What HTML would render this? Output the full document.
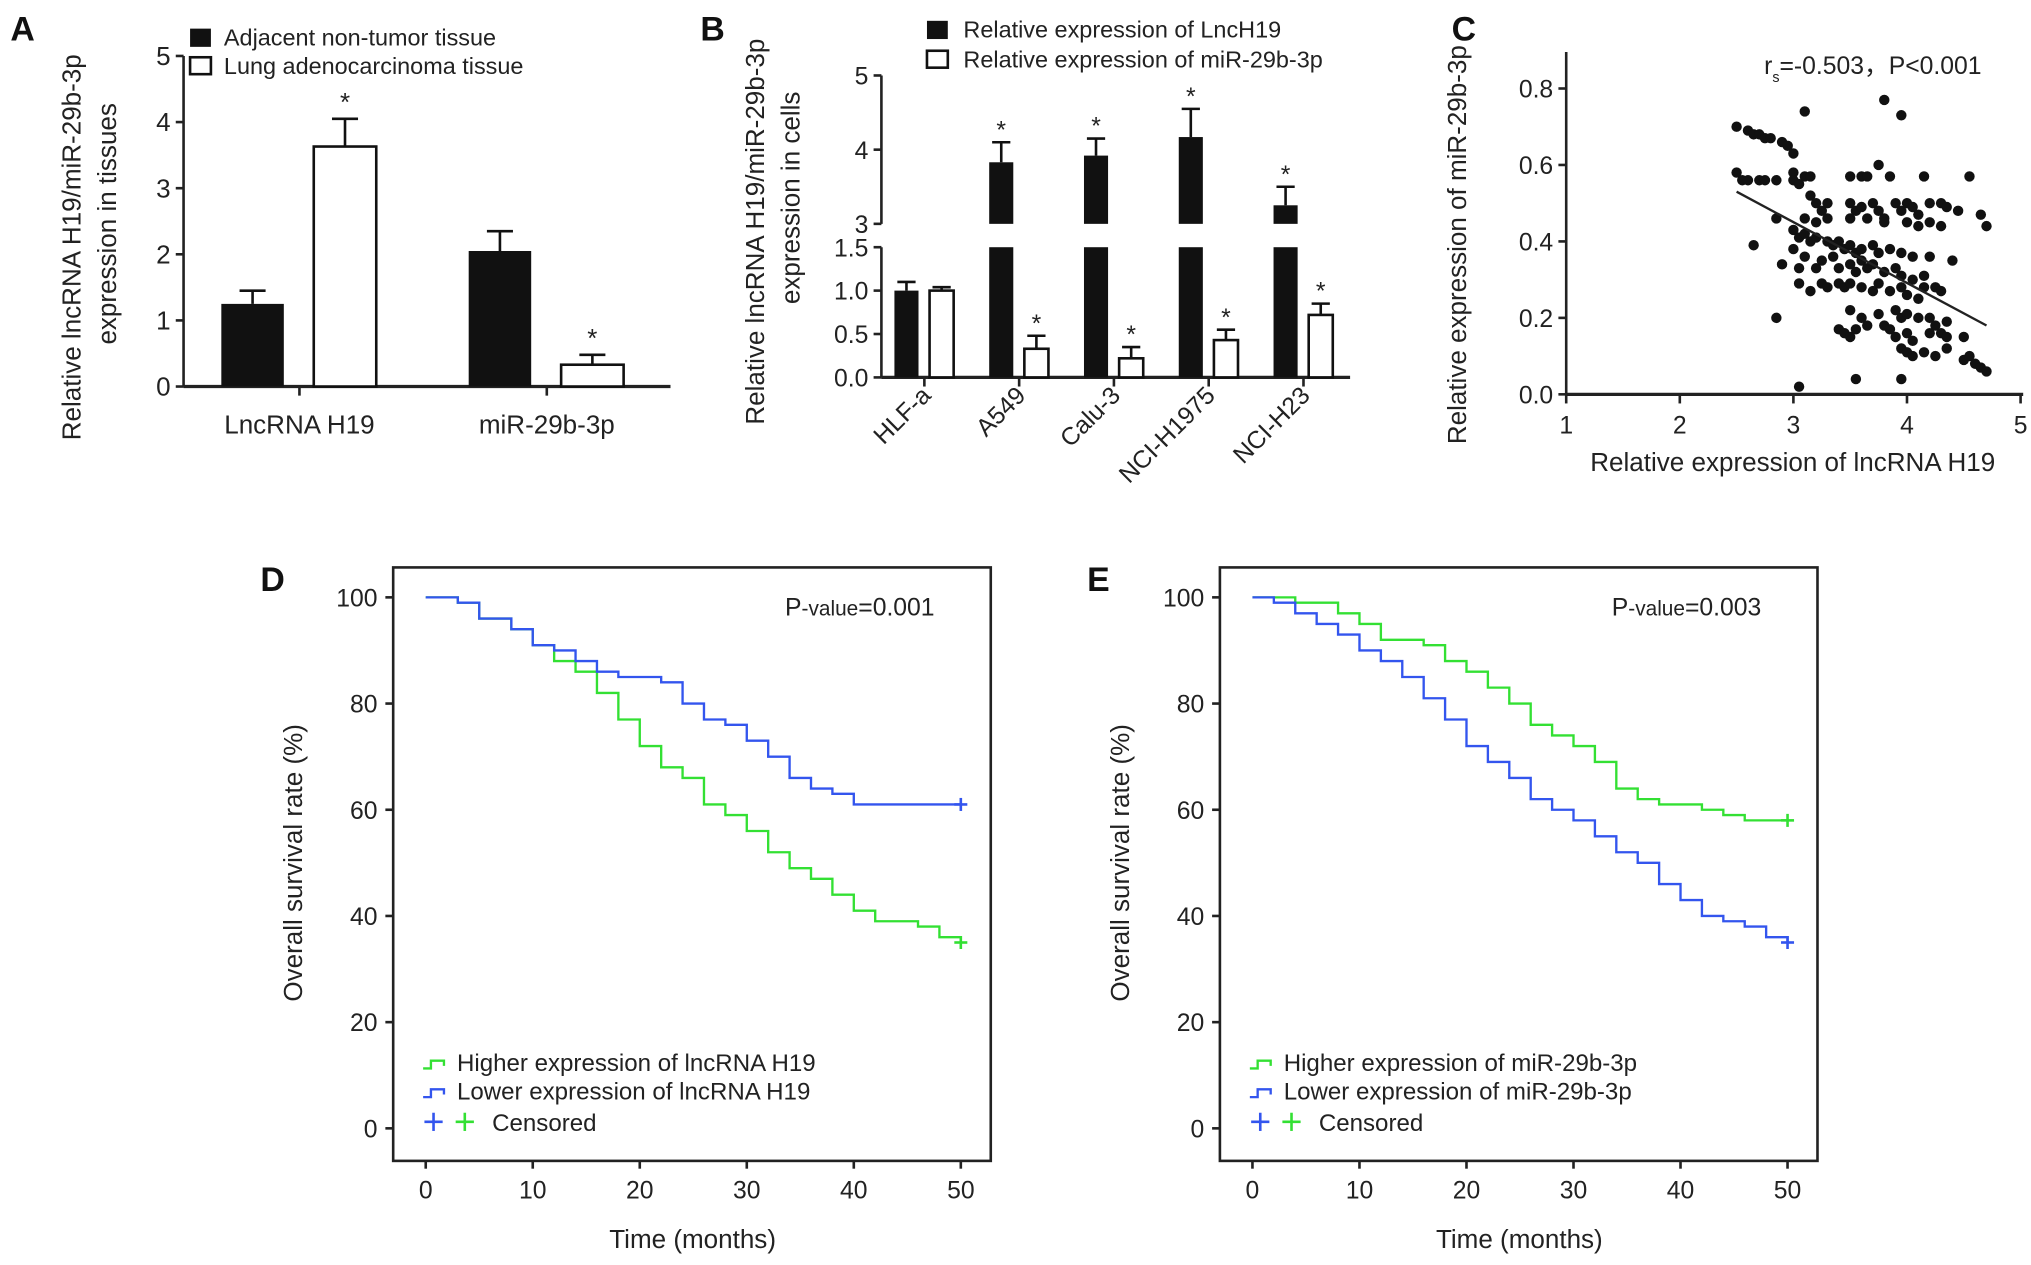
<!DOCTYPE html>
<html><head><meta charset="utf-8">
<style>
html,body{margin:0;padding:0;background:#fff;}
svg{display:block;font-family:"Liberation Sans",Arial,sans-serif;}
</style></head>
<body>
<svg id="fig" width="2031" height="1265" viewBox="0 0 1560 972" preserveAspectRatio="none" xmlns="http://www.w3.org/2000/svg">
<rect x="0" y="0" width="1560" height="972" fill="#fff"/>
</svg>
<script>
// ---------- DATA ----------
const aCategories = ["LncRNA H19", "miR-29b-3p"];
const aAdjacent = [1.25, 2.05];
const aAdjacentErr = [0.2, 0.3];
const aTumor = [3.63, 0.33];
const aTumorErr = [0.42, 0.15];
const aTicks = [0, 1, 2, 3, 4, 5];

const bCategories = ["HLF-a", "A549", "Calu-3", "NCI-H1975", "NCI-H23"];
const bLnc = [1.0, 3.83, 3.92, 4.17, 3.25];
const bLncErr = [0.1, 0.27, 0.23, 0.38, 0.25];
const bMir = [1.0, 0.33, 0.22, 0.43, 0.72];
const bMirErr = [0.04, 0.15, 0.13, 0.12, 0.13];
const bLowTicks = ["0.0", "0.5", "1.0", "1.5"];
const bHighTicks = ["3", "4", "5"];

const cX = [2.5,2.6,2.65,2.7,2.75,2.8,2.9,2.95,3.0,3.1,3.8,3.95,
2.5,2.55,2.6,2.7,2.75,2.85,3.0,3.0,3.1,3.15,3.5,3.6,3.65,3.75,3.85,4.15,4.55,
3.05,3.15,3.2,3.3,3.25,3.5,3.55,3.6,3.7,3.75,3.8,3.9,3.95,4.0,4.05,4.1,4.2,4.3,4.35,4.45,4.65,4.7,
2.85,3.1,3.2,3.3,3.5,3.65,3.8,4.0,4.1,4.2,4.3,
2.65,3.0,3.05,3.1,3.15,3.2,3.3,3.35,3.4,3.45,3.5,3.55,3.6,3.7,3.75,3.85,3.95,4.05,4.2,4.4,
2.9,3.0,3.05,3.1,3.2,3.25,3.35,3.4,3.5,3.55,3.6,3.65,3.7,3.8,3.9,3.95,4.05,4.15,
3.05,3.15,3.25,3.3,3.4,3.45,3.5,3.6,3.7,3.75,3.85,3.95,4.0,4.1,4.15,4.25,4.3,
3.5,3.6,3.75,3.9,3.95,4.0,4.1,4.2,4.25,4.35,
2.85,3.4,3.45,3.55,3.5,3.65,3.8,3.85,3.9,4.0,4.05,4.2,4.3,4.35,4.5,
3.95,4.0,4.05,4.15,4.25,4.35,4.5,4.55,4.6,4.65,4.7,
3.05,3.55,3.95];
const cY = [0.70,0.69,0.68,0.68,0.67,0.67,0.66,0.65,0.63,0.74,0.77,0.73,
0.58,0.56,0.56,0.56,0.56,0.56,0.58,0.56,0.57,0.57,0.57,0.57,0.57,0.60,0.57,0.57,0.57,
0.55,0.52,0.50,0.50,0.48,0.50,0.48,0.49,0.50,0.48,0.46,0.50,0.48,0.50,0.49,0.47,0.50,0.50,0.49,0.48,0.47,0.44,
0.46,0.46,0.45,0.46,0.46,0.46,0.45,0.45,0.44,0.45,0.44,
0.39,0.43,0.41,0.42,0.40,0.41,0.40,0.39,0.40,0.38,0.39,0.37,0.38,0.39,0.37,0.38,0.37,0.36,0.36,0.35,
0.34,0.38,0.33,0.36,0.33,0.35,0.36,0.33,0.34,0.32,0.35,0.33,0.34,0.32,0.33,0.31,0.30,0.31,
0.29,0.27,0.29,0.28,0.29,0.28,0.29,0.28,0.27,0.29,0.27,0.28,0.26,0.25,0.28,0.28,0.27,
0.22,0.20,0.21,0.22,0.20,0.21,0.20,0.20,0.18,0.19,
0.20,0.17,0.16,0.17,0.15,0.18,0.18,0.17,0.15,0.16,0.14,0.16,0.16,0.15,0.15,
0.12,0.11,0.10,0.11,0.10,0.12,0.09,0.10,0.08,0.07,0.06,
0.02,0.04,0.04];
const cFit = [[2.5, 0.53], [4.7, 0.18]];
const cXTicks = [1, 2, 3, 4, 5];
const cYTicks = ["0.0", "0.2", "0.4", "0.6", "0.8"];

const kmTicksX = [0, 10, 20, 30, 40, 50];
const kmTicksY = [0, 20, 40, 60, 80, 100];
const dGreenT = [0,3,5,8,10,12,14,16,18,20,22,24,26,28,30,32,34,36,38,40,42,44,46,48,50];
const dGreenS = [100,99,96,94,91,88,86,82,77,72,68,66,61,59,56,52,49,47,44,41,39,39,38,36,35];
const dBlueT = [0,3,5,8,10,12,14,16,18,20,22,24,26,28,30,32,34,36,38,40,50];
const dBlueS = [100,99,96,94,91,90,88,86,85,85,84,80,77,76,73,70,66,64,63,61,61];
const eGreenT = [0,4,8,10,12,16,18,20,22,24,26,28,30,32,34,36,38,42,44,46,50];
const eGreenS = [100,99,97,95,92,91,88,86,83,80,76,74,72,69,64,62,61,60,59,58,58];
const eBlueT = [0,2,4,6,8,10,12,14,16,18,20,22,24,26,28,30,32,34,36,38,40,42,44,46,48,50];
const eBlueS = [100,99,97,95,93,90,88,85,81,77,72,69,66,62,60,58,55,52,50,46,43,40,39,38,36,35];

// ---------- HELPERS ----------
const svg = document.getElementById('fig');
const NS = 'http://www.w3.org/2000/svg';
function mk(tag, attrs, parent) {
  const e = document.createElementNS(NS, tag);
  for (const k in attrs) e.setAttribute(k, attrs[k]);
  (parent || svg).appendChild(e);
  return e;
}
function txt(x, y, s, size, opts, parent) {
  const e = mk('text', Object.assign({x: x, y: y, 'font-size': size, fill: '#222'}, opts || {}), parent);
  e.textContent = s;
  return e;
}
function line(x1, y1, x2, y2, w, col, parent) {
  return mk('line', {x1: x1, y1: y1, x2: x2, y2: y2, stroke: col || '#222', 'stroke-width': w || 2}, parent);
}

// ---------- PANEL A ----------
(function () {
  const g = mk('g', {});
  
  
  const x0 = 141, yA = v => 297 - v * 50.8;
  const lbl = txt(8, 31, 'A', 26, {'font-weight': 'bold', fill: '#111'}, g);
  
  
  line(x0, yA(0), x0, yA(5), 2, '#222', g);
  line(x0, yA(0), 515, yA(0), 2.5, '#222', g);
  aTicks.forEach(t => {
    line(x0 - 6, yA(t), x0, yA(t), 2, '#222', g);
    const e = txt(x0 - 10, yA(t) + 7, String(t), 20, {'text-anchor': 'end'}, g);
    
    
  });
  const centers = [230, 420];
  aCategories.forEach((c, i) => {
    const cx = centers[i];
    line(cx, yA(0), cx, yA(0) + 7, 2, '#222', g);
    const e = txt(cx, 333, c, 20, {'text-anchor': 'middle'}, g);
    
    
    // black bar
    const bx = cx - 60, wx = cx + 11, bw = 48;
    line(bx + bw / 2, yA(aAdjacent[i]), bx + bw / 2, yA(aAdjacent[i] + aAdjacentErr[i]), 2, '#111', g);
    line(bx + bw / 2 - 10, yA(aAdjacent[i] + aAdjacentErr[i]), bx + bw / 2 + 10, yA(aAdjacent[i] + aAdjacentErr[i]), 2, '#111', g);
    const r1 = mk('rect', {x: bx, y: yA(aAdjacent[i]), width: bw, height: yA(0) - yA(aAdjacent[i]), fill: '#111'}, g);
    
    
    line(wx + bw / 2, yA(aTumor[i]), wx + bw / 2, yA(aTumor[i] + aTumorErr[i]), 2, '#111', g);
    line(wx + bw / 2 - 10, yA(aTumor[i] + aTumorErr[i]), wx + bw / 2 + 10, yA(aTumor[i] + aTumorErr[i]), 2, '#111', g);
    const r2 = mk('rect', {x: wx, y: yA(aTumor[i]), width: bw, height: yA(0) - yA(aTumor[i]), fill: '#fff', stroke: '#111', 'stroke-width': 2}, g);
    
    
    const s = txt(wx + bw / 2, yA(aTumor[i] + aTumorErr[i]) - 6, '*', 20, {'text-anchor': 'middle'}, g);
    
    
  });
  mk('rect', {x: 146, y: 22, width: 16, height: 14, fill: '#111'}, g);
  txt(172, 35, 'Adjacent non-tumor tissue', 18, {}, g);
  mk('rect', {x: 146, y: 44, width: 16, height: 13, fill: '#fff', stroke: '#111', 'stroke-width': 2}, g);
  txt(172, 57, 'Lung adenocarcinoma tissue', 18, {}, g);
  const yl = txt(0, 0, 'Relative lncRNA H19/miR-29b-3p', 20, {transform: 'translate(62,190) rotate(-90)', 'text-anchor': 'middle'}, g);
  
  
  txt(0, 0, 'expression in tissues', 20, {transform: 'translate(89,172) rotate(-90)', 'text-anchor': 'middle'}, g);
})();

// ---------- PANEL B ----------
(function () {
  const g = mk('g', {});
  
  
  const x0 = 677;
  const yLow = v => 290 - v * 66.7;
  const yHigh = v => 172 - (v - 3) * 57;
  txt(538, 31, 'B', 26, {'font-weight': 'bold', fill: '#111'}, g);
  line(x0, yLow(0), x0, yLow(1.5), 2, '#222', g);
  line(x0, yHigh(3), x0, yHigh(5), 2, '#222', g);
  line(x0, yLow(0), 1037, yLow(0), 2.5, '#222', g);
  bLowTicks.forEach(t => {
    line(x0 - 6, yLow(+t), x0, yLow(+t), 2, '#222', g);
    const e = txt(x0 - 10, yLow(+t) + 7, t, 19, {'text-anchor': 'end'}, g);
    
    
  });
  bHighTicks.forEach(t => {
    line(x0 - 6, yHigh(+t), x0, yHigh(+t), 2, '#222', g);
    const e = txt(x0 - 10, yHigh(+t) + 7, t, 19, {'text-anchor': 'end'}, g);
    
    
  });
  const yOf = v => v <= 1.5 ? yLow(v) : yHigh(v);
  bCategories.forEach((c, i) => {
    const bx = 687 + i * 72.8, wx = bx + 27, bw = 18.5;
    const cx = bx + 23;
    line(cx, yLow(0), cx, yLow(0) + 7, 2, '#222', g);
    const e = txt(0, 0, c, 19, {transform: 'translate(' + (cx + 6) + ',305) rotate(-45)', 'text-anchor': 'end'}, g);
    
    
    // lnc bar
    const v = bLnc[i], top = v + bLncErr[i];
    line(bx + bw / 2, yOf(v), bx + bw / 2, yOf(top), 2, '#111', g);
    line(bx + bw / 2 - 7, yOf(top), bx + bw / 2 + 7, yOf(top), 2, '#111', g);
    if (v <= 1.5) {
      const r = mk('rect', {x: bx, y: yLow(v), width: bw, height: yLow(0) - yLow(v), fill: '#111'}, g);
      
      
    } else {
      const r = mk('rect', {x: bx, y: yLow(1.5), width: bw, height: yLow(0) - yLow(1.5), fill: '#111'}, g);
      
      
      const r2 = mk('rect', {x: bx, y: yHigh(v), width: bw, height: yHigh(3) - yHigh(v), fill: '#111'}, g);
      
      
      txt(bx + bw / 2, yOf(top) - 3, '*', 19, {'text-anchor': 'middle'}, g);
    }
    const m = bMir[i], mt = m + bMirErr[i];
    line(wx + bw / 2, yLow(m), wx + bw / 2, yLow(mt), 2, '#111', g);
    line(wx + bw / 2 - 7, yLow(mt), wx + bw / 2 + 7, yLow(mt), 2, '#111', g);
    const r3 = mk('rect', {x: wx, y: yLow(m), width: bw, height: yLow(0) - yLow(m), fill: '#fff', stroke: '#111', 'stroke-width': 2}, g);
    
    
    if (i > 0) txt(wx + bw / 2, yLow(mt) - 3, '*', 19, {'text-anchor': 'middle'}, g);
  });
  mk('rect', {x: 712, y: 16, width: 16, height: 14, fill: '#111'}, g);
  txt(740, 29, 'Relative expression of LncH19', 18, {}, g);
  mk('rect', {x: 712, y: 39, width: 16, height: 13, fill: '#fff', stroke: '#111', 'stroke-width': 2}, g);
  txt(740, 52, 'Relative expression of miR-29b-3p', 18, {}, g);
  const yl = txt(0, 0, 'Relative lncRNA H19/miR-29b-3p', 20, {transform: 'translate(587,178) rotate(-90)', 'text-anchor': 'middle'}, g);
  
  
  txt(0, 0, 'expression in cells', 20, {transform: 'translate(614,152) rotate(-90)', 'text-anchor': 'middle'}, g);
})();

// ---------- PANEL C ----------
(function () {
  const g = mk('g', {});
  
  
  const xC = v => 1203 + (v - 1) * 87.25;
  const yC = v => 303 - v * 293.75;
  txt(1115, 31, 'C', 26, {'font-weight': 'bold', fill: '#111'}, g);
  line(1203, 303, 1203, 40, 2, '#222', g);
  line(1203, 303, 1554, 303, 2.5, '#222', g);
  cYTicks.forEach(t => {
    line(1197, yC(+t), 1203, yC(+t), 2, '#222', g);
    const e = txt(1193, yC(+t) + 7, t, 19, {'text-anchor': 'end'}, g);
    
    
  });
  cXTicks.forEach(t => {
    line(xC(t), 303, xC(t), 310, 2, '#222', g);
    const e = txt(xC(t), 333, String(t), 19, {'text-anchor': 'middle'}, g);
    
    
  });
  cX.forEach((x, i) => {
    const p = mk('circle', {cx: xC(x), cy: yC(cY[i]), r: 4, fill: '#111'}, g);
    
    
  });
  const fl = line(xC(cFit[0][0]), yC(cFit[0][1]), xC(cFit[1][0]), yC(cFit[1][1]), 1.8, '#222', g);
  
  
  const st = mk('text', {x: 1355, y: 57, 'font-size': 19, fill: '#222'}, g);
  st.innerHTML = 'r<tspan font-size="11" dy="6">s</tspan><tspan dy="-6">=-0.503，P&lt;0.001</tspan>';
  
  
  const yl = txt(0, 0, 'Relative expression of miR-29b-3p', 20, {transform: 'translate(1126,188) rotate(-90)', 'text-anchor': 'middle'}, g);
  
  
  const xl = txt(1377, 362, 'Relative expression of lncRNA H19', 20, {'text-anchor': 'middle'}, g);
  
  
})();

// ---------- KM PANELS ----------
function km(name, letter, dx, pval, labels, gT, gS, bT, bS) {
  const g = mk('g', {});
  
  
  const xK = t => 327 + dx + t * 8.22;
  const yK = s => 867 - s * 4.08;
  txt(200 + dx, 454, letter, 26, {'font-weight': 'bold', fill: '#111'}, g);
  mk('rect', {x: 302 + dx, y: 436, width: 459, height: 456, fill: 'none', stroke: '#222', 'stroke-width': 2}, g);
  kmTicksY.forEach(t => {
    line(296 + dx, yK(t), 302 + dx, yK(t), 2, '#222', g);
    const e = txt(290 + dx, yK(t) + 7, String(t), 19, {'text-anchor': 'end'}, g);
    
    
  });
  kmTicksX.forEach(t => {
    line(xK(t), 892, xK(t), 898, 2, '#222', g);
    const e = txt(xK(t), 921, String(t), 19, {'text-anchor': 'middle'}, g);
    
    
  });
  function step(T, S, col, nm) {
    let d = 'M' + xK(T[0]) + ' ' + yK(S[0]);
    for (let i = 1; i < T.length; i++) d += ' H' + xK(T[i]) + ' V' + yK(S[i]);
    const p = mk('path', {d: d, fill: 'none', stroke: col, 'stroke-width': 1.8}, g);
    
    
    const n = T.length - 1;
    line(xK(T[n]) - 5, yK(S[n]), xK(T[n]) + 5, yK(S[n]), 2, col, g);
    line(xK(T[n]), yK(S[n]) - 5, xK(T[n]), yK(S[n]) + 5, 2, col, g);
  }
  step(gT, gS, '#33e033', 'survival-curve-higher');
  step(bT, bS, '#3355ee', 'survival-curve-lower');
  const pv = mk('text', {x: 603 + dx, y: 473, 'font-size': 19, fill: '#222'}, g);
  pv.innerHTML = 'P<tspan font-size="16">-value</tspan>=' + pval;
  
  
  const ly = [817, 839];
  const cols = ['#33e033', '#3355ee'];
  ly.forEach((y, i) => {
    mk('path', {d: 'M' + (325 + dx) + ' ' + (y + 4) + ' h6 v-6 h10 v4', fill: 'none', stroke: cols[i], 'stroke-width': 1.8}, g);
    const e = txt(351 + dx, y + 6, labels[i], 18.5, {}, g);
    
    
  });
  line(326 + dx, 862, 340 + dx, 862, 2, '#3355ee', g);
  line(333 + dx, 855, 333 + dx, 869, 2, '#3355ee', g);
  line(350 + dx, 862, 364 + dx, 862, 2, '#33e033', g);
  line(357 + dx, 855, 357 + dx, 869, 2, '#33e033', g);
  txt(378 + dx, 869, 'Censored', 18.5, {}, g);
  const yl = txt(0, 0, 'Overall survival rate (%)', 20, {transform: 'translate(' + (232 + dx) + ',663) rotate(-90)', 'text-anchor': 'middle'}, g);
  
  
  const xl = txt(532 + dx, 959, 'Time (months)', 20, {'text-anchor': 'middle'}, g);
  
  
}
km('panel-d', 'D', 0, '0.001', ['Higher expression of lncRNA H19', 'Lower expression of lncRNA H19'], dGreenT, dGreenS, dBlueT, dBlueS);
km('panel-e', 'E', 635, '0.003', ['Higher expression of miR-29b-3p', 'Lower expression of miR-29b-3p'], eGreenT, eGreenS, eBlueT, eBlueS);
</script>
</body></html>
